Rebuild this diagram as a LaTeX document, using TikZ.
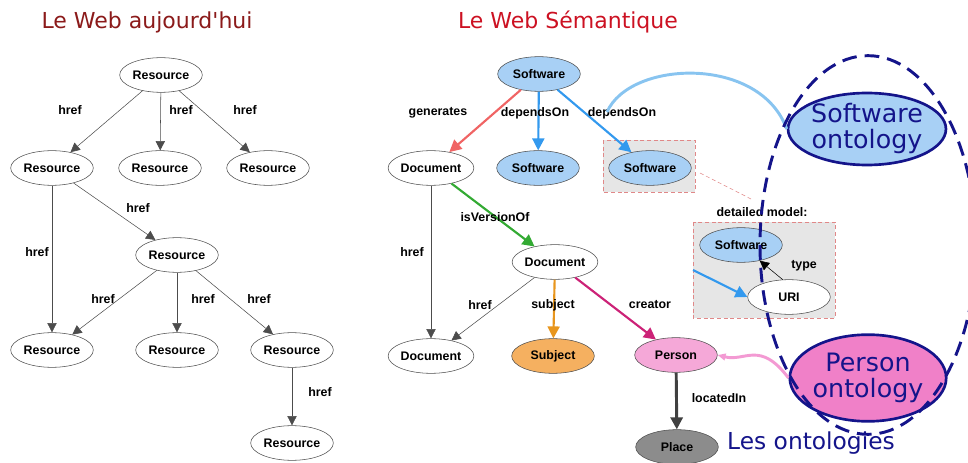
\documentclass[tikz,border=0pt]{standalone}
\usepackage{fontspec}
\setmainfont{DejaVu Sans}
\setsansfont{Liberation Sans}
\usetikzlibrary{shapes.geometric,arrows.meta}

\definecolor{oldred}{HTML}{8B1A1A}
\definecolor{semred}{HTML}{CC1122}
\definecolor{swblue}{HTML}{A8D0F5}
\definecolor{depblue}{HTML}{3399EE}
\definecolor{genred}{HTML}{F06464}
\definecolor{vgreen}{HTML}{33AA33}
\definecolor{subjorange}{HTML}{F5B060}
\definecolor{subjline}{HTML}{E8961E}
\definecolor{creatormag}{HTML}{CC2277}
\definecolor{personpink}{HTML}{F5A8D8}
\definecolor{ontopink}{HTML}{F080C8}
\definecolor{ontoblue}{HTML}{14148A}
\definecolor{boxgray}{HTML}{E6E6E6}
\definecolor{boxline}{HTML}{E08888}
\definecolor{curveblue}{HTML}{88C4F0}

\tikzstyle{res}=[ellipse, draw=black!70, fill=white, minimum width=62pt, minimum height=26pt, inner sep=0pt, font=\sffamily\bfseries\fontsize{9.3}{11}\selectfont]
\tikzstyle{lbl}=[font=\sffamily\bfseries\fontsize{9.3}{11}\selectfont, inner sep=1pt]
\tikzstyle{title}=[font=\fontsize{16.5}{18}\selectfont]
\tikzstyle{link}=[draw=black!70, -{Triangle[length=7pt,width=7pt]}]
\tikzstyle{fat}=[line width=1.6pt, -{Triangle[length=9pt,width=9pt]}]
\tikzstyle{onto}=[ellipse, draw=ontoblue, line width=2pt, text=ontoblue, align=center, inner sep=0pt, font=\fontsize{19}{19.5}\selectfont]
\tikzstyle{detail}=[fill=boxgray, draw=boxline, densely dashed, thin]

\begin{document}
\begin{tikzpicture}[x=0.75pt, y=-0.75pt]
        \useasboundingbox (0,0) rectangle (968,463);

        % le web aujourd'hui
        \node[title, text=oldred](t1) at (147, 22) {Le Web aujourd\textquotesingle hui};

        \node[res](r0) at (161, 75) {Resource};
        \node[res](r1) at (52, 168) {Resource};
        \node[res](r2) at (160, 168) {Resource};
        \node[res](r3) at (268, 168) {Resource};
        \node[res](r4) at (177, 255) {Resource};
        \node[res](r5) at (52, 350) {Resource};
        \node[res](r6) at (177, 350) {Resource};
        \node[res](r7) at (292, 350) {Resource};
        \node[res](r8) at (292, 443) {Resource};

        \draw[link] (r0) -- (r1);
        \draw[link] (r0) -- (r2);
        \draw[link] (r0) -- (r3);
        \draw[link] (r1) -- (r4);
        \draw[link] (r1) -- (r5);
        \draw[link] (r4) -- (r5);
        \draw[link] (r4) -- (r6);
        \draw[link] (r4) -- (r7);
        \draw[link] (r7) -- (r8);

        \node[lbl](h1) at (70, 110) {href};
        \node[lbl](h2) at (181, 110) {href};
        \node[lbl](h3) at (245, 110) {href};
        \node[lbl](h4) at (138, 208) {href};
        \node[lbl](h5) at (37, 252) {href};
        \node[lbl](h6) at (103, 299) {href};
        \node[lbl](h7) at (203, 299) {href};
        \node[lbl](h8) at (259, 299) {href};
        \node[lbl](h9) at (320, 392) {href};

        % le web semantique
        \node[title, text=semred](t2) at (568, 22) {Le Web Sémantique};

        \draw[detail] (603, 140) rectangle (695, 192);
        \draw[detail] (693, 222) rectangle (835, 318);
        \draw[boxline, densely dashed] (700, 173) -- (753, 200);

        \node[res, fill=swblue](s0) at (539, 74) {Software};
        \node[res](d1) at (431, 168) {Document};
        \node[res, fill=swblue](s1) at (538, 168) {Software};
        \node[res, fill=swblue](s2) at (650, 168) {Software};
        \node[res](d2) at (555, 262) {Document};
        \node[res](d3) at (431, 356) {Document};
        \node[res, fill=subjorange](sj) at (553, 356) {Subject};
        \node[res, fill=personpink](p) at (676, 355) {Person};
        \node[res, fill=black!45](pl) at (677, 447) {Place};

        \node[lbl](dm) at (762, 212) {detailed model:};
        \node[res, fill=swblue](s3) at (741, 245) {Software};
        \node[res](uri) at (789, 297) {URI};
        \coordinate (in) at (693, 270);

        \draw[fat, genred] (s0) -- (d1);
        \draw[fat, depblue] (s0) -- (s1);
        \draw[fat, depblue] (s0) -- (s2);
        \draw[fat, vgreen] (d1) -- (d2);
        \draw[link] (d1) -- (d3);
        \draw[link] (d2) -- (d3);
        \draw[fat, subjline] (d2) -- (sj);
        \draw[fat, creatormag] (d2) -- (p);
        \draw[fat, black!75, line width=2.2pt] (p) -- (pl);
        \draw[link, black] (uri.110) -- (s3.-40);
        \draw[fat, depblue] (in) -- (uri.west);

        \node[lbl](e1) at (438, 113) {generates};
        \node[lbl](e2) at (535, 113) {dependsOn};
        \node[lbl](e3) at (622, 113) {dependsOn};
        \node[lbl](e4) at (495, 217) {isVersionOf};
        \node[lbl](e5) at (412, 252) {href};
        \node[lbl](e6) at (480, 305) {href};
        \node[lbl](e7) at (553, 305) {subject};
        \node[lbl](e8) at (650, 305) {creator};
        \node[lbl](e9) at (719, 398) {locatedIn};
        \node[lbl](e10) at (804, 266) {type};

        % les ontologies
        \node[onto, fill=swblue, minimum width=112pt, minimum height=54pt](so) at (867, 129) {Software\\ontology};
        \node[onto, fill=ontopink, minimum width=112pt, minimum height=65pt](po) at (868, 378) {Person\\ontology};
        \coordinate (c1) at (607, 112);

        \draw[curveblue, line width=2.2pt] (so.west) .. controls (760, 55) and (630, 60) .. (c1);
        \draw[ontopink!80, line width=2.2pt, -{Triangle[length=6pt,width=5pt]}] (po.west) .. controls (760, 340) and (745, 362) .. (p.east);

        \draw[ontoblue, line width=2.2pt, dash pattern=on 11pt off 6pt] (868, 245) ellipse [x radius=81pt, y radius=142pt];
        \node[text=ontoblue, font=\fontsize{17.5}{19}\selectfont](lo) at (811, 443) {Les ontologies};
    \end{tikzpicture}
\end{document}
